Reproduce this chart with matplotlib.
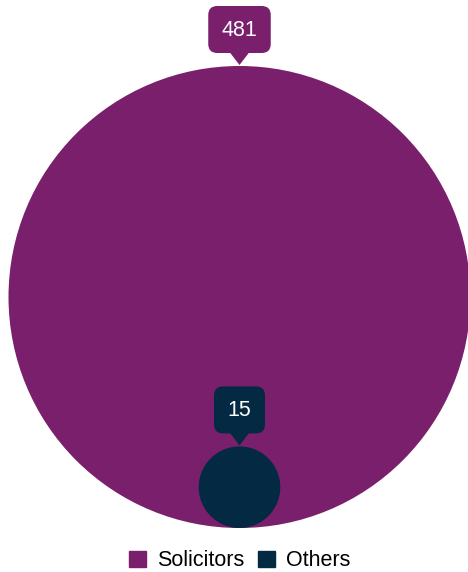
import matplotlib
matplotlib.use("Agg")
import matplotlib.pyplot as plt
from matplotlib.patches import Circle, FancyBboxPatch, Polygon
import numpy as np

labels = ["Solicitors", "Others"]
values = [481, 15]
colors = ["#7A1F6B", "#032A42"]

W, H = 468, 572
fig = plt.figure(figsize=(W / 100, H / 100), dpi=100)
ax = fig.add_axes([0, 0, 1, 1])
ax.set_xlim(0, W)
ax.set_ylim(H, 0)
ax.set_aspect("equal")
ax.axis("off")

# bubbles: area proportional to value, aligned at the bottom
Rmax = 231
cx, base = 239.5, 528
vmax = max(values)
radii = [Rmax * np.sqrt(v / vmax) for v in values]

for v, r, c in zip(values, radii, colors):
    ax.add_patch(Circle((cx, base - r), r, facecolor=c, edgecolor="none"))

# callout labels above each bubble
for v, r, c in zip(values, radii, colors):
    top = base - 2 * r
    tip = top - 1
    bh = 47
    txt = str(v)
    bw = 11.5 * len(txt) + 28
    y1 = tip - 12
    y0 = y1 - bh
    ax.add_patch(FancyBboxPatch((cx - bw / 2, y0), bw, bh,
                                boxstyle="round,pad=0,rounding_size=9",
                                facecolor=c, edgecolor="none"))
    ax.add_patch(Polygon([(cx - 10, y1 - 1), (cx + 10, y1 - 1), (cx, tip)],
                         closed=True, facecolor=c, edgecolor="none"))
    ax.text(cx, y0 + bh / 2 + 1, txt, color="white", fontsize=15.5,
            ha="center", va="center", family="Liberation Sans")

# legend
handles = [plt.Rectangle((0, 0), 1, 1, color=c) for c in colors]
fig.legend(handles, labels, loc="center", ncol=2, frameon=False,
           bbox_to_anchor=(0.512, 1 - 561 / H), handlelength=0.8,
           handleheight=0.8, handletextpad=0.5, columnspacing=0.65,
           borderpad=0, prop={"family": "Liberation Sans", "size": 15.5})

fig.savefig("out.png", dpi=100)
